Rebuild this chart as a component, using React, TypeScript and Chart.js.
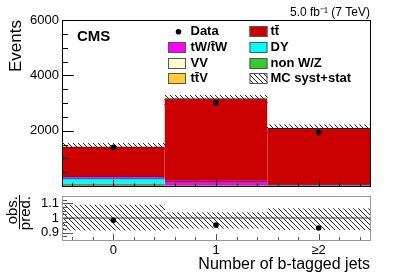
import React, { useEffect, useRef } from 'react';
import { Chart, registerables } from 'chart.js';

Chart.register(...registerables);

// ---------------- data ----------------
const categories = ['0', '1', '≥2'];
const ttbar = [1063, 2977, 2024];
const tW = [86, 157, 40];
const dy = [214, 12, 5];
const nonWZ = [3, 2, 2];
const vv = [40, 6, 3];
const ttV = [14, 10, 8];
const dataObs = [1396, 3012, 1940];
const ratioObs = [0.985, 0.952, 0.932];
const bandUp = [0.088, 0.037, 0.064];
const bandDown = [0.083, 0.07, 0.08];
const mainYTicks = [2000, 4000, 6000];
const ratioYTicks = [0.9, 1, 1.1];

const FONT = "'Liberation Sans', Arial, Helvetica, sans-serif";
Chart.defaults.font.family = FONT;
Chart.defaults.color = '#000';

const LBL_TT = 'tt\u0304';
const LBL_TW = 'tW/t\u0304W';
const LBL_TTV = 'tt\u0304V';
const LBL_BAND = 'MC syst+stat';

function makeHatch(color: string) {
  const c = document.createElement('canvas');
  c.width = 5;
  c.height = 5;
  const g = c.getContext('2d')!;
  g.strokeStyle = color;
  g.lineWidth = 1;
  g.beginPath();
  g.moveTo(-1, -1);
  g.lineTo(6, 6);
  g.stroke();
  return g.createPattern(c, 'repeat')!;
}

function ticksPlugin(id: string, o: any) {
  return {
    id,
    afterDatasetsDraw(chart: any) {
      const { ctx, chartArea: a, scales } = chart;
      const xs = scales.x;
      const ys = scales.y;
      ctx.save();
      ctx.lineWidth = 1;
      ctx.strokeStyle = o.tickColor;
      const n = Math.round((o.yMax - o.yMin) / o.yMinor);
      for (let k = 0; k <= n; k++) {
        const v = o.yMin + k * o.yMinor;
        const major = o.yMajor.some((m: number) => Math.abs(m - v) < 1e-6);
        const len = major ? o.yMajorLen : o.yMinorLen;
        const py = Math.round(ys.getPixelForValue(v)) + 0.5;
        ctx.beginPath();
        ctx.moveTo(a.left, py);
        ctx.lineTo(a.left + len, py);
        ctx.stroke();
      }
      for (let k = -2; k <= 12; k++) {
        const v = k * 0.2;
        const len = k % 5 === 0 ? 6 : 3;
        const px = Math.round(xs.getPixelForValue(v)) + 0.5;
        ctx.beginPath();
        ctx.moveTo(px, a.bottom);
        ctx.lineTo(px, a.bottom - len);
        ctx.stroke();
      }
      ctx.strokeStyle = o.frameColor;
      ctx.strokeRect(
        Math.round(a.left) + 0.5,
        Math.round(a.top) + 0.5,
        Math.round(a.right) - Math.round(a.left),
        Math.round(a.bottom) - Math.round(a.top)
      );
      ctx.restore();
    },
  };
}

const legendCol1 = ['Data', LBL_TW, 'VV', LBL_TTV];
const legendCol2 = [LBL_TT, 'DY', 'non W/Z', LBL_BAND];

const legendPlugin = {
  id: 'cmsLegend',
  afterDatasetsDraw(chart: any) {
    const ctx = chart.ctx;
    const sets = chart.data.datasets;
    ctx.save();
    ctx.fillStyle = '#000';
    ctx.textBaseline = 'middle';
    ctx.textAlign = 'left';
    ctx.font = `bold 15px ${FONT}`;
    ctx.fillText('CMS', 77, 37);
    ctx.font = `bold 13px ${FONT}`;
    const rows = [31.8, 47.4, 63, 78.6];
    const cols = [
      { box: 168, text: 190.5, items: legendCol1 },
      { box: 249.5, text: 270.5, items: legendCol2 },
    ];
    cols.forEach((col) => {
      col.items.forEach((name, r) => {
        const ds = sets.find((d: any) => d.label === name);
        const cy = rows[r];
        if (name === 'Data') {
          ctx.beginPath();
          ctx.fillStyle = '#000';
          ctx.arc(col.box + 10.5, cy, 2.8, 0, Math.PI * 2);
          ctx.fill();
        } else if (ds) {
          ctx.fillStyle = ds.backgroundColor;
          ctx.fillRect(col.box, Math.round(cy - 5.5), 18, 11);
          ctx.strokeStyle = '#555';
          ctx.lineWidth = 1;
          ctx.strokeRect(col.box + 0.5, Math.round(cy - 5.5) + 0.5, 17, 10);
        }
        ctx.fillStyle = '#000';
        ctx.fillText(name, col.text, cy);
      });
    });
    ctx.restore();
  },
};

const fractionPlugin = {
  id: 'fractionBar',
  afterDraw(chart: any) {
    const ctx = chart.ctx;
    const ys = chart.scales.y;
    ctx.save();
    ctx.font = `15px ${FONT}`;
    const w = Math.max(ctx.measureText('pred.').width, ctx.measureText('obs.').width);
    ctx.strokeStyle = '#000';
    ctx.lineWidth = 1;
    ctx.beginPath();
    ctx.moveTo(19.5, ys.top - 1);
    ctx.lineTo(19.5, ys.top - 1 + w);
    ctx.stroke();
    ctx.restore();
  },
};

const barCommon = {
  stack: 'mc',
  grouped: false,
  barPercentage: 1,
  categoryPercentage: 1,
  borderColor: '#222',
  borderWidth: { top: 1, left: 0, right: 0, bottom: 0 },
  order: 0,
};

export default function App() {
  const mainRef = useRef<HTMLCanvasElement>(null);
  const ratioRef = useRef<HTMLCanvasElement>(null);

  useEffect(() => {
    const hatchMain = makeHatch('#222');
    const hatchRatio = makeHatch('#333');
    const total = categories.map(
      (_, i) => ttbar[i] + tW[i] + dy[i] + nonWZ[i] + vv[i] + ttV[i]
    );

    const mainChart = new Chart(mainRef.current!, {
      type: 'bar',
      data: {
        labels: categories,
        datasets: [
          { ...barCommon, label: LBL_TTV, data: ttV, backgroundColor: '#ffcc33' },
          { ...barCommon, label: 'VV', data: vv, backgroundColor: '#ffffcc' },
          { ...barCommon, label: 'non W/Z', data: nonWZ, backgroundColor: '#33cc33' },
          { ...barCommon, label: 'DY', data: dy, backgroundColor: '#00ffff' },
          { ...barCommon, label: LBL_TW, data: tW, backgroundColor: '#ff00ff' },
          { ...barCommon, label: LBL_TT, data: ttbar, backgroundColor: '#cc0000' },
          {
            label: LBL_BAND,
            data: total.map((t, i) => [t * (1 - bandDown[i]), t * (1 + bandUp[i])]),
            backgroundColor: hatchMain,
            stack: 'band',
            grouped: false,
            barPercentage: 1,
            categoryPercentage: 1,
            borderWidth: 0,
            order: 1,
          },
          {
            type: 'line',
            label: 'Data',
            data: dataObs,
            showLine: false,
            pointRadius: 2.8,
            pointBackgroundColor: '#000',
            pointBorderColor: '#000',
            pointBorderWidth: 0,
            order: -1,
          },
        ] as any,
      },
      options: {
        responsive: false,
        animation: false,
        events: [],
        layout: { padding: { left: 0, right: 41, top: 0, bottom: 2 } },
        plugins: {
          legend: { display: false },
          tooltip: { enabled: false },
          title: {
            display: true,
            text: '5.0 fb\u207B\u00B9 (7 TeV)',
            align: 'end',
            color: '#000',
            font: { size: 12, weight: 'normal', lineHeight: 1.2 },
            padding: { top: 5, bottom: 0.6 },
          },
        },
        scales: {
          x: { type: 'category', display: false },
          y: {
            type: 'linear',
            stacked: true,
            min: 0,
            max: 6000,
            afterBuildTicks: (s: any) => {
              s.ticks = mainYTicks.map((v) => ({ value: v }));
            },
            afterFit: (s: any) => {
              s.width = 62;
              s.paddingTop = 0;
              s.paddingBottom = 0;
            },
            grid: { display: false, drawTicks: false },
            border: { display: false },
            ticks: {
              padding: 3,
              color: '#000',
              font: { size: 13 },
              callback: (v: any) => String(v),
            },
            title: {
              display: true,
              text: 'Events',
              align: 'end',
              color: '#000',
              font: { size: 17, lineHeight: 1 },
              padding: { top: 8.2, bottom: 0 },
            },
          },
        },
      } as any,
      plugins: [
        ticksPlugin('mainTicks', {
          tickColor: '#000',
          frameColor: '#000',
          yMin: 0,
          yMax: 6000,
          yMinor: 500,
          yMajor: [0, ...mainYTicks],
          yMajorLen: 12,
          yMinorLen: 6,
        }),
        legendPlugin,
      ],
    });

    const ratioChart = new Chart(ratioRef.current!, {
      type: 'bar',
      data: {
        labels: categories,
        datasets: [
          {
            label: LBL_BAND,
            data: categories.map((_, i) => [1 - bandDown[i], 1 + bandUp[i]]),
            backgroundColor: hatchRatio,
            barPercentage: 1,
            categoryPercentage: 1,
            borderWidth: 0,
            order: 1,
          },
          {
            type: 'line',
            label: 'obs./pred.',
            data: ratioObs,
            showLine: false,
            pointRadius: 2.8,
            pointBackgroundColor: '#000',
            pointBorderColor: '#000',
            pointBorderWidth: 0,
            order: -1,
          },
        ] as any,
      },
      options: {
        responsive: false,
        animation: false,
        events: [],
        layout: { padding: { left: 0, right: 41, top: 6, bottom: 0 } },
        plugins: { legend: { display: false }, tooltip: { enabled: false } },
        scales: {
          x: {
            type: 'category',
            afterFit: (s: any) => {
              s.height = 39;
              s.paddingLeft = 0;
              s.paddingRight = 0;
            },
            grid: { display: false, drawTicks: false },
            border: { display: false },
            ticks: { padding: 3, color: '#000', font: { size: 13 }, maxRotation: 0 },
            title: {
              display: true,
              text: 'Number of b-tagged jets',
              align: 'end',
              color: '#000',
              font: { size: 16, lineHeight: 1 },
              padding: { top: 0, bottom: 6 },
            },
          },
          y: {
            type: 'linear',
            min: 0.85,
            max: 1.15,
            afterBuildTicks: (s: any) => {
              s.ticks = ratioYTicks.map((v) => ({ value: v }));
            },
            afterFit: (s: any) => {
              s.width = 62;
              s.paddingTop = 0;
              s.paddingBottom = 0;
            },
            grid: {
              drawTicks: false,
              color: (c: any) => (c.tick && c.tick.value === 1 ? '#a0a0a0' : 'rgba(0,0,0,0)'),
              lineWidth: 2,
            },
            border: { display: false },
            ticks: {
              padding: 3,
              color: '#000',
              font: { size: 13 },
              callback: (v: any) => String(v),
            },
            title: {
              display: true,
              text: ['obs.', 'pred.'],
              align: 'end',
              color: '#000',
              font: { size: 15, lineHeight: 0.85 },
              padding: { top: 6.7, bottom: 0 },
            },
          },
        },
      } as any,
      plugins: [
        ticksPlugin('ratioTicks', {
          tickColor: '#555',
          frameColor: '#999',
          yMin: 0.85,
          yMax: 1.15,
          yMinor: 0.025,
          yMajor: ratioYTicks,
          yMajorLen: 11,
          yMinorLen: 5,
        }),
        fractionPlugin,
      ],
    });

    return () => {
      mainChart.destroy();
      ratioChart.destroy();
    };
  }, []);

  return (
    <div
      style={{
        position: 'fixed',
        left: 0,
        top: 0,
        width: 411,
        height: 279,
        background: '#fff',
        overflow: 'hidden',
      }}
    >
      <canvas
        ref={mainRef}
        width={411}
        height={190}
        style={{ position: 'absolute', left: 0, top: 0, width: 411, height: 190 }}
      />
      <canvas
        ref={ratioRef}
        width={411}
        height={89}
        style={{ position: 'absolute', left: 0, top: 190, width: 411, height: 89 }}
      />
    </div>
  );
}
